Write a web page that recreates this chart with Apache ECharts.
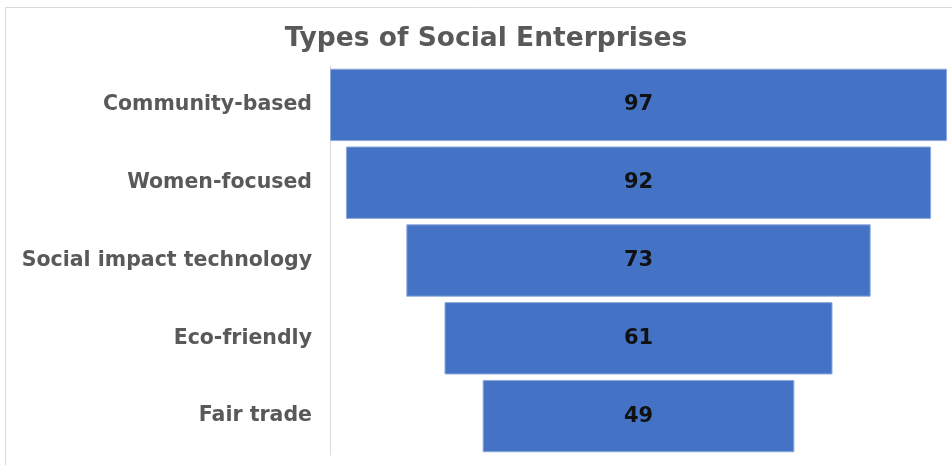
<!DOCTYPE html>
<html>
<head>
<meta charset="utf-8">
<script src="https://cdn.jsdelivr.net/npm/echarts@6/dist/echarts.min.js"></script>
<style>
html,body{margin:0;padding:0;background:#fff;}
#chart{width:952px;height:465px;}
</style>
</head>
<body>
<div id="chart"></div>
<script>
const categories = ["Community-based", "Women-focused", "Social impact technology", "Eco-friendly", "Fair trade"];
const values = [97, 92, 73, 61, 49];
const titleText = "Types of Social Enterprises";

const maxVal = Math.max(...values);
const offsets = values.map(v => (maxVal - v) / 2);

const chart = echarts.init(document.getElementById('chart'));
chart.setOption({
  animation: false,
  backgroundColor: '#fff',
  title: {
    text: titleText,
    left: 481,
    textAlign: 'center',
    top: 21,
    textStyle: { fontFamily: 'DejaVu Sans', fontWeight: 'bold', fontSize: 26.5, color: '#595959' }
  },
  graphic: [{
    type: 'rect',
    shape: { x: 5.5, y: 7.5, width: 1000, height: 1000 },
    style: { fill: 'none', stroke: '#d9d9d9', lineWidth: 1 },
    silent: true, z: -1
  }],
  grid: { left: 330, right: 5, top: 66, bottom: 10 },
  xAxis: {
    type: 'value', min: 0, max: maxVal, show: false
  },
  yAxis: {
    type: 'category', data: categories, inverse: true,
    axisLine: { show: true, lineStyle: { color: '#d9d9d9', width: 1 } },
    axisTick: { show: false },
    axisLabel: { fontFamily: 'DejaVu Sans', fontWeight: 'bold', fontSize: 20.5, color: '#595959', margin: 18 }
  },
  series: [
    {
      type: 'bar', stack: 'f', data: offsets, silent: true,
      itemStyle: { color: 'transparent' }, barCategoryGap: '7%'
    },
    {
      type: 'bar', stack: 'f', data: values, barCategoryGap: '7%',
      itemStyle: { color: '#4472C4', borderColor: '#8eaadb', borderWidth: 1 },
      label: { show: true, position: 'inside', fontFamily: 'DejaVu Sans', fontWeight: 'bold', fontSize: 21, color: '#111' }
    }
  ]
});
</script>
</body>
</html>
